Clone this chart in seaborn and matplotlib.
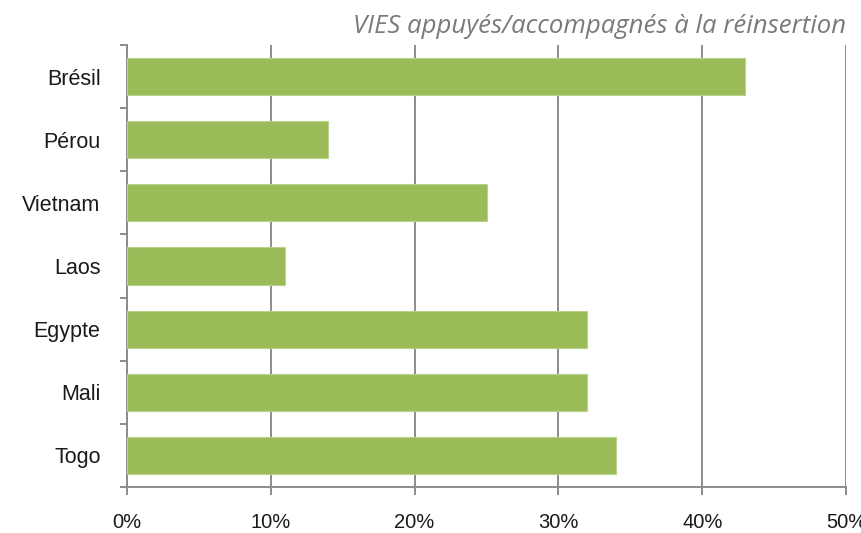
import matplotlib
matplotlib.use("Agg")
import matplotlib.pyplot as plt
import numpy as np
import pandas as pd
import seaborn as sns

# Data
countries = ["Brésil", "Pérou", "Vietnam", "Laos", "Egypte", "Mali", "Togo"]
shares = [43, 14, 25, 11, 32, 32, 34]
title = "VIES appuyés/accompagnés à la réinsertion"
x_ticks = [0, 10, 20, 30, 40, 50]

df = pd.DataFrame({"Pays": countries, "Part": shares})

sns.set_style("white")
plt.rcParams["font.family"] = ["Liberation Sans", "DejaVu Sans"]

fig = plt.figure(figsize=(8.61, 5.33), dpi=100)
ax = fig.add_axes([0.1475, 0.0863, 0.8351, 0.8293])

sns.barplot(data=df, x="Part", y="Pays", orient="h", color="#9BBB59",
            saturation=1, width=0.59, edgecolor="#B9D38F", linewidth=0.8,
            ax=ax, zorder=3)

ax.set_xlim(0, 50)
ax.set_ylim(len(countries) - 0.5, -0.5)
ax.set_xticks(x_ticks)
ax.set_xticklabels([f"{t}%" for t in x_ticks])
ax.set_xlabel("")
ax.set_ylabel("")

# vertical gridlines behind the bars
ax.grid(axis="x", color="#8C8C8C", linewidth=1.4, zorder=0)
ax.grid(axis="y", visible=False)
ax.set_axisbelow(True)

for side in ["top", "right"]:
    ax.spines[side].set_visible(False)
for side in ["left", "bottom"]:
    ax.spines[side].set_color("#8C8C8C")
    ax.spines[side].set_linewidth(1.4)

# category labels centred, tick marks on the boundaries
ax.set_yticks(np.arange(-0.5, len(countries), 1.0), minor=True)
ax.tick_params(axis="y", which="major", left=False, length=0, pad=19, labelsize=15.5)
ax.tick_params(axis="y", which="minor", left=True, length=5, width=1.4,
               color="#8C8C8C", direction="out")
ax.tick_params(axis="x", which="major", bottom=True, length=6, width=1.4,
               color="#8C8C8C", direction="out", pad=13, labelsize=14.5)
for lbl in ax.get_xticklabels() + ax.get_yticklabels():
    lbl.set_color("#1A1A1A")

fig.text(0.9826, 0.950, title, ha="right", va="center", fontsize=18.5,
         style="italic", color="#7A7A7A", family=["Open Sans", "DejaVu Sans"])

fig.savefig("out.png", dpi=100)
